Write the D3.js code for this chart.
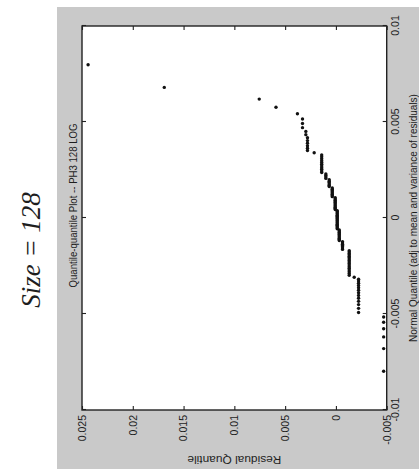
<!DOCTYPE html>
<html><head><meta charset="utf-8">
<script src="https://cdn.jsdelivr.net/npm/d3@7"></script>
<style>
html,body{margin:0;padding:0;background:#fff;}
svg{display:block;}
</style></head>
<body>
<svg id="chart" width="419" height="469"></svg>
<script>
// ---- data ----
const caption = "Size = 128";
const title = "Quantile-quantile Plot -- PH3 128 LOG";
const xLabel = "Normal Quantile (adj to mean and variance of residuals)";
const yLabel = "Residual Quantile";
const xTicks = [-0.01, -0.005, 0, 0.005, 0.01];
const xTickLabels = ["-0.01", "-0.005", "0", "0.005", "0.01"];
const yTicks = [-0.005, 0, 0.005, 0.01, 0.015, 0.02, 0.025];
const yTickLabels = ["-0.005", "0", "0.005", "0.01", "0.015", "0.02", "0.025"];

// normal quantiles (sorted)
const normalQuantile = [
-0.007980,-0.006801,-0.006192,-0.005766,-0.005431,-0.005156,-0.004918,-0.004705,-0.004510,-0.004341,
-0.004177,-0.004031,-0.003891,-0.003758,-0.003630,-0.003513,-0.003399,-0.003287,-0.003185,-0.003083,
-0.002983,-0.002891,-0.002798,-0.002706,-0.002621,-0.002537,-0.002453,-0.002371,-0.002293,-0.002215,
-0.002137,-0.002062,-0.001989,-0.001917,-0.001844,-0.001773,-0.001705,-0.001636,-0.001568,-0.001500,
-0.001434,-0.001370,-0.001304,-0.001240,-0.001175,-0.001113,-0.001051,-0.000988,-0.000926,-0.000864,
-0.000803,-0.000743,-0.000682,-0.000621,-0.000561,-0.000502,-0.000443,-0.000383,-0.000324,-0.000265,
-0.000206,-0.000147,-0.000088,-0.000029,
0.000029,0.000088,0.000147,0.000206,0.000265,0.000324,0.000383,0.000443,0.000502,0.000561,
0.000621,0.000682,0.000743,0.000803,0.000864,0.000926,0.000988,0.001051,0.001113,0.001175,
0.001240,0.001304,0.001370,0.001434,0.001500,0.001568,0.001636,0.001705,0.001773,0.001844,
0.001917,0.001989,0.002062,0.002137,0.002215,0.002293,0.002371,0.002453,0.002537,0.002621,
0.002706,0.002798,0.002891,0.002983,0.003083,0.003185,0.003287,0.003399,0.003513,0.003630,
0.003758,0.003891,0.004031,0.004177,0.004341,0.004510,0.004705,0.004918,0.005156,0.005431,
0.005766,0.006192,0.006801,0.007980
];
// residual quantiles (sorted)
const residualQuantile = [
-0.0047,-0.0047,-0.0047,-0.0047,-0.0047,-0.0047,
-0.00223,-0.00223,-0.00223,-0.00223,-0.00223,-0.00223,-0.00223,-0.00223,-0.00223,-0.00223,-0.00223,-0.00223,-0.00223,
-0.0018,
-0.00131,-0.00131,-0.00131,-0.00131,-0.00131,-0.00131,-0.00131,-0.00131,-0.00131,-0.00131,-0.00131,-0.00131,-0.00131,-0.00131,-0.00131,-0.00131,-0.00131,
-0.00065,-0.00065,-0.00065,-0.00065,-0.00065,-0.00065,-0.00065,
-0.00033,-0.00033,-0.00033,-0.00033,-0.00033,-0.00033,-0.00033,-0.00033,-0.00033,-0.00033,
-0.00013,-0.00013,-0.00013,-0.00013,-0.00013,-0.00013,-0.00013,-0.00013,-0.00013,-0.00013,-0.00013,-0.00013,-0.00013,-0.00013,-0.00013,-0.00013,-0.00013,
0.00007,0.00007,0.00007,0.00007,0.00007,0.00007,0.00007,0.00007,0.00007,0.00007,0.00007,
0.00036,0.00036,0.00036,0.00036,0.00036,0.00036,0.00036,0.00036,
0.00066,0.00066,0.00066,0.00066,0.00066,0.00066,
0.00099,0.00099,0.00099,0.00099,
0.0014,0.0014,0.0014,0.0014,0.0014,0.0014,0.0014,0.0014,0.0014,0.0014,0.0014,
0.00214,
0.0028,0.0028,0.0028,0.0028,0.0028,0.0028,
0.00296,0.00296,
0.00329,0.00329,0.00329,
0.00379,0.0059,0.00755,0.0169,0.0244
];

// ---- drawing ----
const svg = d3.select("#chart");
const W = 469;
const sans = "Liberation Sans, Arial, sans-serif";
const serif = "Liberation Serif, Times New Roman, serif";

// gray figure background (picture coordinates)
svg.append("rect").attr("x", 57).attr("y", 7).attr("width", 362).attr("height", 462).attr("fill", "#c9c9c9");

// rotated group: original chart coords (u,v) -> picture (v, 469-u)
const g = svg.append("g").attr("transform", `translate(0,${W}) rotate(-90)`);

const x = d3.scaleLinear().domain([-0.01, 0.01]).range([59, 443]);
const y = d3.scaleLinear().domain([-0.005, 0.025]).range([386.7, 82]);

g.append("rect").attr("x", x(-0.01)).attr("y", y(0.025))
  .attr("width", x(0.01) - x(-0.01)).attr("height", y(-0.005) - y(0.025))
  .attr("fill", "#fff");

const fs = 10.5;
function styleAxis(sel) {
  sel.select(".domain").remove();
  sel.selectAll(".tick line").attr("stroke", "#222").attr("stroke-width", 1.1);
  sel.selectAll(".tick text").style("font-size", fs + "px").style("fill", "#1e1e1e")
     .style("font-family", sans);
}

// bottom x axis (labelled)
g.append("g").attr("transform", `translate(0,${y(-0.005)})`)
  .call(d3.axisBottom(x).tickValues(xTicks).tickFormat((d, i) => xTickLabels[i]).tickSizeInner(-4).tickSizeOuter(0).tickPadding(5))
  .call(styleAxis);
// top x axis (ticks only)
g.append("g").attr("transform", `translate(0,${y(0.025)})`)
  .call(d3.axisTop(x).tickValues(xTicks).tickFormat("").tickSizeInner(-4).tickSizeOuter(0))
  .call(styleAxis);
// left y axis (labelled)
g.append("g").attr("transform", `translate(${x(-0.01)},0)`)
  .call(d3.axisLeft(y).tickValues(yTicks).tickFormat((d, i) => yTickLabels[i]).tickSizeInner(-4).tickSizeOuter(0).tickPadding(5))
  .call(styleAxis);
// right y axis (ticks only)
g.append("g").attr("transform", `translate(${x(0.01)},0)`)
  .call(d3.axisRight(y).tickValues(yTicks).tickFormat("").tickSizeInner(-4).tickSizeOuter(0))
  .call(styleAxis);

// plot box
g.append("rect").attr("x", x(-0.01)).attr("y", y(0.025))
  .attr("width", x(0.01) - x(-0.01)).attr("height", y(-0.005) - y(0.025))
  .attr("fill", "none").attr("stroke", "#222").attr("stroke-width", 1.4);

// points
const pts = normalQuantile.map((q, i) => ({q, r: residualQuantile[i]}));
g.append("g").selectAll("circle").data(pts).join("circle")
  .attr("cx", d => x(d.q)).attr("cy", d => y(d.r)).attr("r", 1.7).attr("fill", "#111");

// labels
const cx = (x(-0.01) + x(0.01)) / 2;
const cy = (y(-0.005) + y(0.025)) / 2;
function label(sel, size) {
  return sel.style("font-family", sans).style("font-size", size + "px").style("fill", "#1e1e1e");
}
label(g.append("text").attr("x", cx).attr("y", 416.5).attr("text-anchor", "middle"), 10).text(xLabel);
label(g.append("text").attr("transform", `translate(13,${cy}) rotate(-90)`).attr("text-anchor", "middle")
  .attr("textLength", 94).attr("lengthAdjust", "spacingAndGlyphs"), 11).text(yLabel);
label(g.append("text").attr("x", 263.5).attr("y", 77).attr("text-anchor", "middle")
  .attr("textLength", 164).attr("lengthAdjust", "spacingAndGlyphs"), 11).text(title);
g.append("text").attr("x", 219).attr("y", 40).attr("text-anchor", "middle")
  .style("font-size", "27px").style("font-style", "italic")
  .style("font-family", serif).style("fill", "#1e1e1e").text(caption);
</script>
</body></html>
